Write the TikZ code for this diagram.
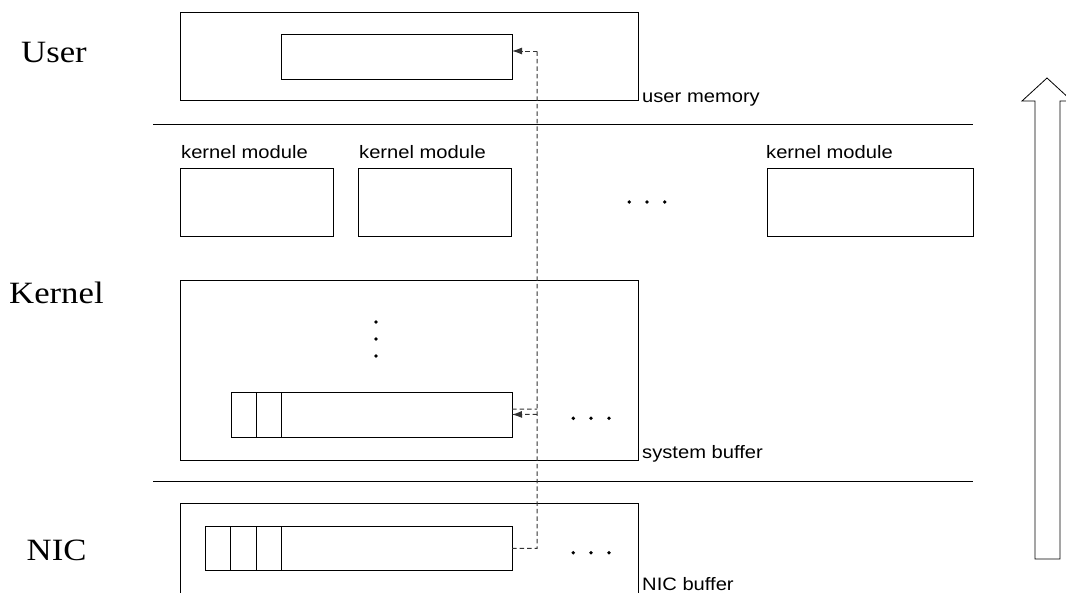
\documentclass[tikz,border=0pt]{standalone}
\usepackage{fontspec}
\setmainfont{Liberation Serif}
\setsansfont{Liberation Sans}
\usetikzlibrary{arrows.meta}
\tikzset{
  box/.style={draw=black, line width=0.8pt, inner sep=0pt, outer sep=0pt, anchor=north west},
  layer/.style={inner sep=0pt, anchor=base west},
  lbl/.style={inner sep=0pt, anchor=base west},
  sep/.style={line width=0.8pt},
  flow/.style={draw=black!80, line width=1pt, dash pattern=on 4.5pt off 3pt},
  tip/.style={-{Latex[length=10pt,width=7pt]}},
  dot/.style={fill=black}
}
\newcommand{\layerfont}[1]{\scalebox{1.12}[1]{\fontsize{31}{31}\selectfont #1}}
\newcommand{\lblfont}[1]{\scalebox{1.12}[1]{\sffamily\fontsize{18}{18}\selectfont #1}}
\begin{document}
\begin{tikzpicture}[x=1pt,y=-1pt]
\useasboundingbox (0,0) rectangle (1066,592);
\clip (0,0) rectangle (1066,592);
% layer names
\node[layer] (user) at (21,62.7) {\layerfont{User}};
\node[layer] (kernel) at (9,303.3) {\layerfont{Kernel}};
\node[layer] (nic) at (26.5,560.7) {\layerfont{NIC}};
% separators
\coordinate (s1a) at (153,124); \coordinate (s1b) at (973,124);
\coordinate (s2a) at (153,481); \coordinate (s2b) at (973,481);
\draw[sep] (s1a) -- (s1b);
\draw[sep] (s2a) -- (s2b);
% user memory
\node[box, minimum width=458pt, minimum height=88pt] (usermem) at (180,12) {};
\node[box, minimum width=231pt, minimum height=45pt] (userbuf) at (281,34) {};
\node[lbl] (ulbl) at (642,102) {\lblfont{user memory}};
% kernel modules
\node[lbl] (k1l) at (181,158) {\lblfont{kernel module}};
\node[lbl] (k2l) at (359,158) {\lblfont{kernel module}};
\node[lbl] (k3l) at (766,158) {\lblfont{kernel module}};
\node[box, minimum width=153pt, minimum height=68pt] (km1) at (180,168) {};
\node[box, minimum width=153pt, minimum height=68pt] (km2) at (358,168) {};
\node[box, minimum width=206pt, minimum height=68pt] (km3) at (767,168) {};
\fill[dot] (629.3,202) circle (1.9pt) (647,202) circle (1.9pt) (664.7,202) circle (1.9pt);
% system buffer
\node[box, minimum width=458pt, minimum height=180pt] (sysbuf) at (180,280) {};
\fill[dot] (376,322) circle (1.9pt) (376,339) circle (1.9pt) (376,356) circle (1.9pt);
\node[box, minimum width=281pt, minimum height=45pt] (kbuf) at (231,392) {};
\foreach \d in {25,50} \draw[line width=0.8pt] ([xshift=\d pt]kbuf.north west) -- ([xshift=\d pt]kbuf.south west);
\fill[dot] (573.3,418.3) circle (1.9pt) (591,418.3) circle (1.9pt) (609,418.3) circle (1.9pt);
\node[lbl] (slbl) at (642,458) {\lblfont{system buffer}};
% NIC buffer
\node[box, minimum width=458pt, minimum height=120pt] (nicmem) at (180,503.3) {};
\node[box, minimum width=307pt, minimum height=44.7pt] (nicbuf) at (205,526) {};
\foreach \d in {25.7,51,76.7} \draw[line width=0.8pt] ([xshift=\d pt]nicbuf.north west) -- ([xshift=\d pt]nicbuf.south west);
\fill[dot] (573.3,552.7) circle (1.9pt) (591,552.7) circle (1.9pt) (609,552.7) circle (1.9pt);
\node[lbl] (nlbl) at (642,590) {\lblfont{NIC buffer}};
% data path
\coordinate (low) at (537,548.3);
\coordinate (top) at (537,51);
\coordinate (kin) at (537,414.3);
\coordinate (kout) at (537,409);
\draw[flow] (nicbuf.east) -- (low) -- (top);
\draw[flow, tip] (top) -- ([yshift=5.5pt]userbuf.east);
\draw[flow, tip] (kin) -- (kbuf.east);
\draw[flow] ([yshift=5.3pt]kbuf.east) -- (kout);
% big upward arrow
\draw[line width=0.8pt] (1035,559) -- (1035,101) -- (1022,101) -- (1047,78) -- (1072,101) -- (1060,101) -- (1060,559) -- cycle;
\end{tikzpicture}
\end{document}
